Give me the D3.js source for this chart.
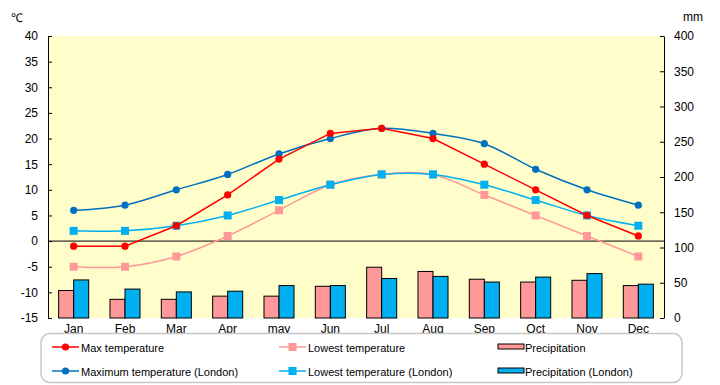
<!DOCTYPE html>
<html>
<head>
<meta charset="utf-8">
<title>Climate chart</title>
<script src="https://cdn.jsdelivr.net/npm/d3@7"></script>
<style>
  body { margin: 0; background: #fff; }
  svg text { font-family: "Liberation Sans", Arial, sans-serif; font-size: 12px; fill: #000; }
  svg .legend text { font-size: 11px; }
</style>
</head>
<body>
<svg id="chart" width="720" height="385"></svg>
<script>
// data
var months = ['Jan','Feb','Mar','Apr','may','Jun','Jul','Aug','Sep','Oct','Nov','Dec'];
var maxTemp       = [-1, -1, 3, 9, 16, 21, 22, 20, 15, 10, 5, 1];
var lowTemp       = [-5, -5, -3, 1, 6, 11, 13, 13, 9, 5, 1, -3];
var maxTempLondon = [6, 7, 10, 13, 17, 20, 22, 21, 19, 14, 10, 7];
var lowTempLondon = [2, 2, 3, 5, 8, 11, 13, 13, 11, 8, 5, 3];
var precip        = [39, 26.5, 26.5, 31, 31, 45, 72, 66, 55, 51, 53.5, 46];
var precipLondon  = [54, 41, 37, 38, 46, 46, 56, 59, 51, 58, 63, 48];
var tempTicks = [40, 35, 30, 25, 20, 15, 10, 5, 0, -5, -10, -15];
var mmTicks = [400, 350, 300, 250, 200, 150, 100, 50, 0];

var svg = d3.select('#chart');
var plotL = 48, plotR = 664, plotT = 36, plotB = 318;

var x = d3.scaleBand().domain(months).range([plotL, plotR]).paddingInner(0.415).paddingOuter(0.2075);
var xIn = d3.scaleBand().domain([0, 1]).range([0, x.bandwidth()]);
var xc = function(i) { return x(months[i]) + x.bandwidth() / 2; };
var yT = d3.scaleLinear().domain([-15, 40]).range([plotB, plotT]);
var yP = d3.scaleLinear().domain([0, 400]).range([plotB, plotT]);

// plot background
svg.append('rect').attr('x', plotL).attr('y', plotT).attr('width', plotR - plotL).attr('height', plotB - plotT)
  .attr('fill', '#FFFDC9');

// bars
var barSeries = [
  { values: precip, color: '#FF9999' },
  { values: precipLondon, color: '#00B0F0' }
];
barSeries.forEach(function(s, k) {
  svg.append('g').selectAll('rect').data(s.values).join('rect')
    .attr('x', function(d, i) { return x(months[i]) + xIn(k); })
    .attr('y', function(d) { return yP(d); })
    .attr('width', xIn.bandwidth())
    .attr('height', function(d) { return yP(0) - yP(d); })
    .attr('fill', s.color).attr('stroke', '#000').attr('stroke-width', 1);
});

// zero line
svg.append('line').attr('x1', plotL).attr('x2', plotR).attr('y1', yT(0)).attr('y2', yT(0))
  .attr('stroke', '#000').attr('stroke-width', 1);

// axes
var axL = svg.append('g').attr('transform', 'translate(' + plotL + ',0)')
  .call(d3.axisLeft(yT).tickValues(tempTicks).tickSizeInner(-4).tickSizeOuter(0).tickPadding(10)
    .tickFormat(function(d) { return String(d); }));
var axR = svg.append('g').attr('transform', 'translate(' + plotR + ',0)')
  .call(d3.axisRight(yP).tickValues(mmTicks).tickSizeInner(-4).tickSizeOuter(0).tickPadding(10));
[axL, axR].forEach(function(a) {
  a.selectAll('path, line').attr('stroke', '#000');
  a.selectAll('text').style('font-size', '12px').attr('font-family', null);
});
var axB = svg.append('g').attr('transform', 'translate(0,' + plotB + ')')
  .call(d3.axisBottom(x).tickSize(0).tickPadding(6));
axB.select('.domain').remove();
axB.selectAll('text').style('font-size', '12px').attr('font-family', null);

svg.append('text').attr('x', 11).attr('y', 22).text('℃');
svg.append('text').attr('x', 683).attr('y', 21).text('mm');

// temperature lines
var lineSeries = [
  { values: lowTemp, color: '#FF9999', marker: 'square', curve: d3.curveCardinal.tension(0) },
  { values: lowTempLondon, color: '#00B0F0', marker: 'square', curve: d3.curveCardinal.tension(0) },
  { values: maxTempLondon, color: '#0070C0', marker: 'circle', curve: d3.curveCardinal.tension(0) },
  { values: maxTemp, color: '#FF0000', marker: 'circle', curve: d3.curveLinear }
];
lineSeries.forEach(function(s) {
  var line = d3.line().x(function(d, i) { return xc(i); }).y(function(d) { return yT(d); }).curve(s.curve);
  svg.append('path').datum(s.values).attr('d', line)
    .attr('fill', 'none').attr('stroke', s.color).attr('stroke-width', 1.5);
  var g = svg.append('g');
  if (s.marker === 'circle') {
    g.selectAll('circle').data(s.values).join('circle')
      .attr('cx', function(d, i) { return xc(i); }).attr('cy', function(d) { return yT(d); })
      .attr('r', 3.6).attr('fill', s.color);
  } else {
    g.selectAll('rect').data(s.values).join('rect')
      .attr('x', function(d, i) { return xc(i) - 4; }).attr('y', function(d) { return yT(d) - 4; })
      .attr('width', 8).attr('height', 8).attr('fill', s.color);
  }
});

// legend
var legend = svg.append('g').attr('class', 'legend');
legend.append('rect').attr('x', 41).attr('y', 333.5).attr('width', 641).attr('height', 49).attr('rx', 9)
  .attr('fill', '#fff').attr('stroke', '#c8c8c8').attr('stroke-width', 1.5);

var legendItems = [
  { label: 'Max temperature', color: '#FF0000', type: 'circle', x: 52, y: 347 },
  { label: 'Maximum temperature (London)', color: '#0070C0', type: 'circle', x: 52, y: 371 },
  { label: 'Lowest temperature', color: '#FF9999', type: 'square', x: 279, y: 347 },
  { label: 'Lowest temperature (London)', color: '#00B0F0', type: 'square', x: 279, y: 371 },
  { label: 'Precipitation', color: '#FF9999', type: 'bar', x: 498, y: 347 },
  { label: 'Precipitation (London)', color: '#00B0F0', type: 'bar', x: 498, y: 371 }
];
legendItems.forEach(function(it) {
  var g = legend.append('g');
  if (it.type === 'bar') {
    g.append('rect').attr('x', it.x).attr('y', it.y - 3).attr('width', 26).attr('height', 5)
      .attr('fill', it.color).attr('stroke', '#000').attr('stroke-width', 1);
    g.append('text').attr('x', it.x + 27).attr('y', it.y + 4.5).text(it.label);
  } else {
    g.append('line').attr('x1', it.x).attr('x2', it.x + 27).attr('y1', it.y).attr('y2', it.y)
      .attr('stroke', it.color).attr('stroke-width', 1.5);
    if (it.type === 'circle') {
      g.append('circle').attr('cx', it.x + 13.5).attr('cy', it.y).attr('r', 3.6).attr('fill', it.color);
    } else {
      g.append('rect').attr('x', it.x + 9.5).attr('y', it.y - 4).attr('width', 8).attr('height', 8).attr('fill', it.color);
    }
    g.append('text').attr('x', it.x + 29).attr('y', it.y + 4.5).text(it.label);
  }
});
</script>
</body>
</html>
